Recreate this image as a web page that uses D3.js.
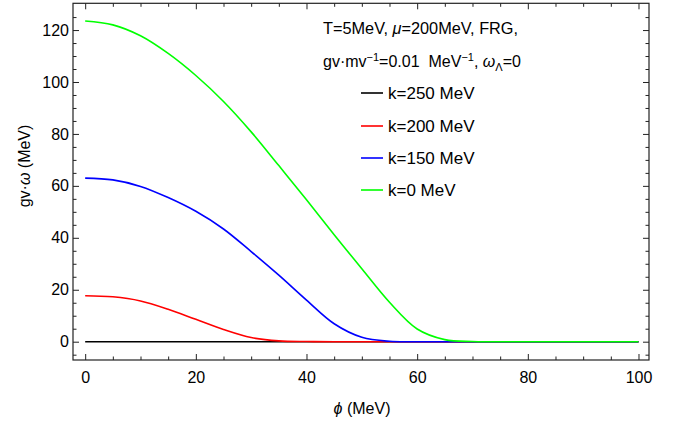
<!DOCTYPE html>
<html>
<head>
<meta charset="utf-8">
<script src="https://cdn.jsdelivr.net/npm/d3@7"></script>
<style>
  body { margin: 0; background: #fff; }
  svg { font-family: "Liberation Sans", Arial, sans-serif; }
</style>
</head>
<body>
<svg width="673" height="428"></svg>
<script>
// phi values (MeV) shared by every curve
var phi = [0, 5, 10, 15, 20, 25, 30, 35, 40, 45, 50, 55, 60, 65, 70, 75, 80, 85, 90, 95, 100];

// gv*omega (MeV)
var k250 = [0, 0, 0, 0, 0, 0, 0, 0, 0, 0, 0, 0, 0, 0, 0, 0, 0, 0, 0, 0, 0];
var k200 = [17.7, 17.3, 15.7, 12.5, 8.6, 4.7, 1.6, 0.3, 0.05, 0, 0, 0, 0, 0, 0, 0, 0, 0, 0, 0, 0];
var k150 = [63.0, 62.3, 59.8, 55.5, 50.2, 43.4, 34.7, 25.6, 16.0, 6.9, 1.7, 0.15, 0, 0, 0, 0, 0, 0, 0, 0, 0];
var k0   = [123.5, 122.0, 117.8, 111.0, 102.5, 92.5, 80.8, 67.8, 54.7, 41.2, 28.1, 15.2, 4.9, 0.8, 0.05, 0, 0, 0, 0, 0, 0];

var seriesNames = ["k=250 MeV", "k=200 MeV", "k=150 MeV", "k=0 MeV"];
var seriesVals = [k250, k200, k150, k0];
var seriesColors = ["#000000", "#ff0000", "#0000ff", "#00ff00"];

var xMajor = [0, 20, 40, 60, 80, 100];
var yMajor = [0, 20, 40, 60, 80, 100, 120];

var svg = d3.select("svg");
var fLeft = 73, fRight = 649, fTop = 3.3, fBottom = 360;

var x = d3.scaleLinear().domain([-2.2, 101.9]).range([fLeft, fRight]);
var y = d3.scaleLinear().domain([-7.05, 130.3]).range([fBottom, fTop]);

var xMinor = d3.range(0, 101, 5).filter(d => d % 20 != 0);
var yMinor = d3.range(-5, 130, 5).filter(d => d % 20 != 0);

// curves
var line = d3.line()
  .x((d, i) => x(phi[i]))
  .y(d => y(d))
  .curve(d3.curveCatmullRom.alpha(0.5));

svg.append("g").selectAll("path").data(seriesVals).enter().append("path")
  .attr("d", d => line(d))
  .attr("fill", "none")
  .attr("stroke", (d, i) => seriesColors[i])
  .attr("stroke-width", 1.6);

// frame + ticks (inward, on all four sides)
function styleAxis(g) {
  g.select(".domain").remove();
  g.selectAll(".tick line").attr("stroke", "#222").attr("stroke-width", 1);
  g.selectAll(".tick text").attr("fill", "#000").style("font-size", "16px")
    .style("font-family", '"Liberation Sans", Arial, sans-serif');
}

svg.append("g").attr("transform", "translate(0," + fBottom + ")")
  .call(d3.axisBottom(x).tickValues(xMajor).tickSize(-6).tickPadding(11.5).tickFormat(d3.format("d")))
  .call(styleAxis);
svg.append("g").attr("transform", "translate(0," + fBottom + ")")
  .call(d3.axisBottom(x).tickValues(xMinor).tickSize(-3.5).tickFormat(""))
  .call(styleAxis);
svg.append("g").attr("transform", "translate(0," + fTop + ")")
  .call(d3.axisTop(x).tickValues(xMajor).tickSize(-6).tickFormat(""))
  .call(styleAxis);
svg.append("g").attr("transform", "translate(0," + fTop + ")")
  .call(d3.axisTop(x).tickValues(xMinor).tickSize(-3.5).tickFormat(""))
  .call(styleAxis);

svg.append("g").attr("transform", "translate(" + fLeft + ",0)")
  .call(d3.axisLeft(y).tickValues(yMajor).tickSize(-6).tickPadding(4).tickFormat(d3.format("d")))
  .call(styleAxis);
svg.append("g").attr("transform", "translate(" + fLeft + ",0)")
  .call(d3.axisLeft(y).tickValues(yMinor).tickSize(-3.5).tickFormat(""))
  .call(styleAxis);
svg.append("g").attr("transform", "translate(" + fRight + ",0)")
  .call(d3.axisRight(y).tickValues(yMajor).tickSize(-6).tickFormat(""))
  .call(styleAxis);
svg.append("g").attr("transform", "translate(" + fRight + ",0)")
  .call(d3.axisRight(y).tickValues(yMinor).tickSize(-3.5).tickFormat(""))
  .call(styleAxis);

svg.append("rect")
  .attr("x", fLeft).attr("y", fTop)
  .attr("width", fRight - fLeft).attr("height", fBottom - fTop)
  .attr("fill", "none").attr("stroke", "#222").attr("stroke-width", 1.2);

// axis labels
var yl = svg.append("text")
  .attr("transform", "translate(30,166) rotate(-90)")
  .attr("text-anchor", "middle")
  .style("font-size", "16px");
yl.append("tspan").text("gv\u00b7");
yl.append("tspan").style("font-style", "italic").text("\u03c9");
yl.append("tspan").text(" (MeV)");

var xl = svg.append("text")
  .attr("x", 362).attr("y", 414)
  .attr("text-anchor", "middle")
  .style("font-size", "16px");
xl.append("tspan").style("font-style", "italic").text("\u03d5");
xl.append("tspan").text(" (MeV)");

// annotation
var t1 = svg.append("text").attr("x", 323).attr("y", 34).style("font-size", "16.3px");
t1.append("tspan").text("T=5MeV, ");
t1.append("tspan").style("font-style", "italic").text("\u03bc");
t1.append("tspan").text("=200MeV, FRG,");

var t2 = svg.append("text").attr("x", 323).attr("y", 67).style("font-size", "16px");
t2.append("tspan").text("gv\u00b7mv");
t2.append("tspan").attr("dy", -6).style("font-size", "11px").text("\u22121");
t2.append("tspan").attr("dy", 6).text("=0.01\u00a0\u00a0MeV");
t2.append("tspan").attr("dy", -6).style("font-size", "11px").text("\u22121");
t2.append("tspan").attr("dy", 6).text(", ");
t2.append("tspan").style("font-style", "italic").text("\u03c9");
t2.append("tspan").attr("dy", 4).style("font-size", "11px").text("\u039b");
t2.append("tspan").attr("dy", -4).text("=0");

// legend
var legY = [93, 126, 158, 190];
var leg = svg.append("g").selectAll("g").data(seriesNames).enter().append("g")
  .attr("transform", (d, i) => "translate(0," + legY[i] + ")");
leg.append("line")
  .attr("x1", 361).attr("x2", 383)
  .attr("stroke", (d, i) => seriesColors[i]).attr("stroke-width", 1.6);
leg.append("text")
  .attr("x", 388).attr("y", 6)
  .style("font-size", "17px")
  .text(d => d);
</script>
</body>
</html>
